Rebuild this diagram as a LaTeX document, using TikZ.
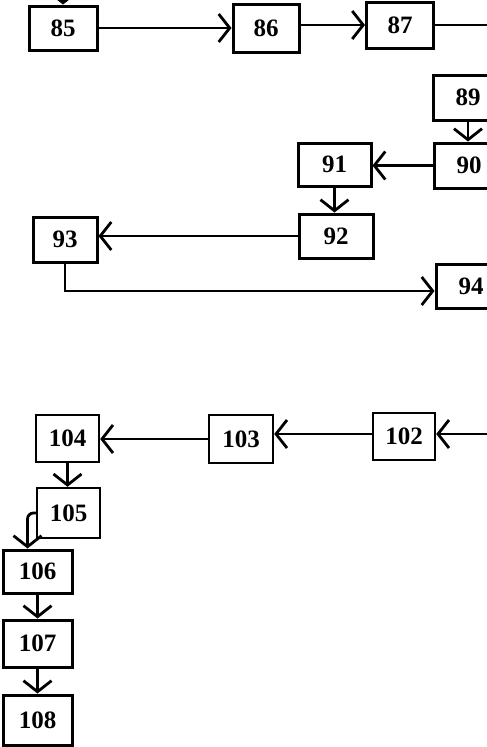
\documentclass[tikz,border=0pt]{standalone}
\usepackage{fontspec}
\setmainfont{Liberation Serif}
\usetikzlibrary{arrows.meta,calc}
\tikzset{
  box/.style={draw, line width=3pt, inner sep=0pt, font=\bfseries\fontsize{25}{25}\selectfont},
  thinbox/.style={box, line width=2.4pt},
  conn/.style={line width=2.8pt, -{Straight Barb[length=11pt,width=28pt,line width=2.8pt]}},
  thinconn/.style={conn, line width=2.2pt}
}
\begin{document}
\begin{tikzpicture}[x=1pt,y=-1pt]
\useasboundingbox (0,0) rectangle (487,747);
% upper part
\node[box, minimum width=68pt, minimum height=44pt] (n85) at (63,28) {85};
\node[box, minimum width=66pt, minimum height=48pt] (n86) at (266,28) {86};
\node[box, minimum width=67pt, minimum height=46pt] (n87) at (400,25) {87};
\node[box, minimum width=70pt, minimum height=45pt] (n89) at (468,97.5) {89};
\node[box, minimum width=70pt, minimum height=45pt] (n90) at (469,165.5) {90};
\node[box, minimum width=73pt, minimum height=43pt] (n91) at (334.5,164.5) {91};
\node[box, minimum width=74pt, minimum height=44pt] (n92) at (336,236) {92};
\node[box, minimum width=64pt, minimum height=45pt] (n93) at (65,239.5) {93};
\node[box, minimum width=70pt, minimum height=44pt] (n94) at (471,286) {94};
\coordinate (in85) at (63,-20);
\coordinate (out87) at (500,25);
\draw[conn] (in85) -- (n85.north);
\draw[conn] (n85.east) -- (n85.east -| n86.west);
\draw[conn] (n86.east |- n87) -- (n87.west);
\draw[line width=2.8pt] (n87.east) -- (out87);
\draw[conn] (n89.south) -- (n89.south |- n90.north);
\draw[conn] (n90.west) -- (n90.west -| n91.east);
\draw[conn] (n91.south) -- (n91.south |- n92.north);
\draw[conn] (n92.west) -- (n92.west -| n93.east);
\draw[conn] (n93.south) |- ([yshift=-5pt]n94.west);
% lower part
\node[thinbox, minimum width=62pt, minimum height=47pt] (n102) at (404,436.5) {102};
\node[thinbox, minimum width=64pt, minimum height=48pt] (n103) at (241,439) {103};
\node[thinbox, minimum width=63pt, minimum height=47pt] (n104) at (67.5,438.5) {104};
\node[thinbox, minimum width=63pt, minimum height=50pt] (n105) at (68.5,513) {105};
\node[box, minimum width=69pt, minimum height=43pt] (n106) at (37.5,571.5) {106};
\node[box, minimum width=69pt, minimum height=47pt] (n107) at (37.5,643.5) {107};
\node[box, minimum width=69pt, minimum height=50pt] (n108) at (37.5,720) {108};
\coordinate (in102) at (500,434);
\draw[thinconn] (in102) -- (in102 -| n102.east);
\draw[thinconn] (n102.west |- in102) -- (in102 -| n103.east);
\draw[thinconn] (n103.west) -- (n103.west -| n104.east);
\draw[thinconn] (n104.south) -- (n104.south |- n105.north);
\draw[conn, rounded corners=6pt] (n105.west) -| ([xshift=-10pt]n106.north);
\draw[conn] (n106.south) -- (n107.north);
\draw[conn] (n107.south) -- (n108.north);
\end{tikzpicture}
\end{document}
